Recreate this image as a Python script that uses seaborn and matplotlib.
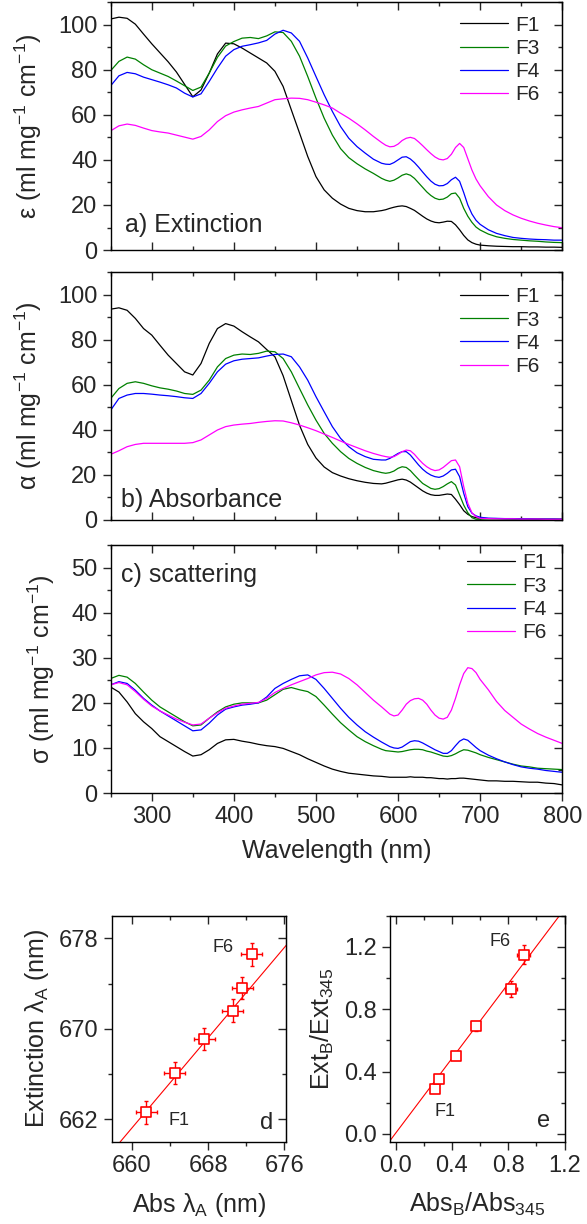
import numpy as np
import pandas as pd
import matplotlib
matplotlib.use("Agg")
import matplotlib.pyplot as plt
from matplotlib.ticker import MultipleLocator, FormatStrFormatter
import seaborn as sns

sns.set_style("ticks")
plt.rcParams["font.family"] = ["Liberation Sans", "DejaVu Sans"]
plt.rcParams["mathtext.fontset"] = "custom"
plt.rcParams["mathtext.rm"] = "Liberation Sans"
plt.rcParams["mathtext.it"] = "Liberation Sans:italic"
plt.rcParams["mathtext.bf"] = "Liberation Sans:bold"

# --------------------------------------------------------------------------
# data (wavelength grid: 10 nm, 5 nm near the Q bands)
# --------------------------------------------------------------------------
wavelength = list(range(250, 581, 10)) + list(range(585, 701, 5)) + list(range(710, 801, 10))
samples = ["F1", "F3", "F4", "F6"]
colors = ["black", "#008000", "#0000ff", "#ff00ff"]

ext_f1 = [102.5, 103.3, 102.8, 100.2, 95.8, 91.5, 87.5, 83.5, 79.0, 73.5, 68.0, 71.0, 78.5, 87.0, 91.8, 91.5, 89.6,
          87.4, 85.2, 83.0, 79.3, 72.6, 62.2, 51.9, 41.5, 32.6, 26.7, 23.0, 20.4, 18.5, 17.5, 17.0, 17.0, 17.5,
          17.9, 18.5, 19.0, 19.4, 19.6, 19.3, 18.5, 17.6, 16.3, 15.0, 13.8, 12.9, 12.3, 12.1, 12.4, 12.8, 12.7, 11.2,
          9.0, 6.5, 4.5, 3.3, 2.6, 2.2,
          1.9, 1.7, 1.6, 1.5, 1.5, 1.4, 1.4, 1.3, 1.3, 1.2]
ext_f3 = [79.6, 83.7, 85.6, 84.7, 82.2, 80.0, 78.5, 77.0, 75.0, 72.9, 70.8, 72.3, 78.5, 85.5, 90.5, 92.5, 94.0,
          94.3, 93.8, 95.0, 96.8, 96.5, 92.6, 86.0, 77.0, 67.4, 58.5, 51.0, 45.0, 41.0, 38.3, 36.0, 34.0, 31.8,
          31.0, 30.5, 31.0, 32.0, 33.2, 33.8, 33.2, 31.8, 29.8, 27.8, 25.8, 24.2, 23.0, 22.4, 22.6, 23.5, 25.0, 25.3,
          23.0, 18.5, 15.0, 12.3, 10.2, 8.9,
          7.1, 5.9, 5.2, 4.7, 4.4, 4.1, 3.9, 3.6, 3.4, 3.3]
ext_f4 = [72.9, 77.3, 78.8, 78.2, 76.7, 75.6, 74.5, 73.3, 71.9, 69.6, 67.9, 69.3, 74.8, 80.7, 86.0, 88.9, 90.4,
          91.1, 91.9, 93.0, 95.8, 97.5, 96.3, 92.6, 85.2, 77.0, 68.9, 61.5, 54.8, 49.6, 45.9, 43.0, 40.3, 38.5,
          38.1, 38.0, 38.8, 40.0, 41.2, 41.4, 40.4, 38.8, 36.8, 34.6, 32.5, 30.6, 29.2, 28.5, 28.6, 29.5, 31.2, 32.3,
          30.5, 25.5, 20.0, 16.0, 13.2, 11.4,
          9.0, 7.4, 6.4, 5.6, 5.2, 4.9, 4.7, 4.6, 4.4, 4.4]
ext_f6 = [52.9, 55.1, 55.9, 55.3, 54.1, 53.0, 52.4, 51.9, 51.0, 50.1, 49.2, 50.4, 53.3, 57.0, 59.6, 61.2, 62.2,
          63.0, 63.7, 65.2, 66.7, 67.1, 67.4, 67.3, 66.7, 65.6, 64.4, 63.0, 60.7, 58.5, 56.0, 53.3, 50.4, 47.7,
          46.5, 45.8, 46.0, 47.0, 48.6, 49.6, 50.0, 49.5, 48.0, 46.3, 44.5, 42.8, 41.3, 40.3, 40.0, 40.6, 42.5, 45.5,
          47.3, 45.5, 40.5, 35.5, 31.5, 28.5,
          23.7, 20.0, 17.5, 15.6, 14.1, 12.9, 11.9, 11.1, 10.4, 9.9]

abs_f1 = [93.5, 94.1, 93.0, 89.4, 84.9, 82.0, 77.5, 73.1, 69.4, 65.7, 64.3, 69.4, 78.3, 84.9, 87.1, 86.0, 83.5,
          81.2, 79.0, 75.6, 72.4, 64.0, 53.0, 42.0, 33.5, 27.5, 23.5, 21.0, 19.5, 18.3, 17.4, 16.7, 16.2, 16.0,
          16.3, 16.8, 17.3, 17.8, 18.1, 17.7, 16.8, 15.5, 14.2, 12.9, 11.9, 11.2, 10.9, 10.9, 11.2, 11.5, 11.3, 9.2,
          6.8, 4.1, 2.5, 1.5, 1.0, 0.7,
          0.6, 0.6, 0.5, 0.5, 0.5, 0.4, 0.4, 0.3, 0.3, 0.3]
abs_f3 = [53.9, 58.3, 60.6, 61.3, 60.6, 59.5, 58.6, 58.0, 57.2, 56.1, 55.7, 57.6, 62.0, 67.9, 71.6, 73.1, 73.6,
          73.4, 73.9, 74.9, 74.6, 71.6, 65.7, 58.3, 51.0, 44.3, 38.4, 34.0, 30.3, 27.3, 25.1, 23.3, 21.9, 21.0,
          20.7, 21.0, 21.7, 22.9, 23.6, 23.3, 21.9, 19.9, 18.0, 16.2, 15.1, 14.0, 13.6, 13.9, 14.8, 16.0, 17.0, 15.5,
          11.1, 6.6, 3.2, 1.0, 0.3, 0.3,
          0.5, 0.5, 0.5, 0.4, 0.4, 0.4, 0.3, 0.3, 0.3, 0.3]
abs_f4 = [48.7, 53.9, 55.4, 56.1, 56.1, 55.8, 55.4, 55.1, 54.7, 54.2, 53.9, 56.1, 60.6, 65.7, 69.1, 70.6, 71.3,
          71.6, 71.9, 72.7, 73.4, 73.6, 72.4, 67.9, 62.0, 54.7, 48.0, 41.4, 36.2, 32.5, 29.8, 28.1, 26.9, 26.6,
          26.6, 27.3, 28.4, 29.5, 30.3, 30.3, 28.8, 26.6, 24.4, 22.5, 21.0, 19.9, 19.2, 18.9, 19.5, 20.7, 22.2, 22.5,
          19.2, 11.8, 5.9, 3.0, 1.8, 1.2,
          0.8, 0.7, 0.6, 0.6, 0.5, 0.5, 0.4, 0.4, 0.4, 0.3]
abs_f6 = [29.1, 30.7, 32.5, 33.5, 34.0, 34.0, 34.0, 34.0, 34.0, 34.0, 34.3, 35.5, 37.7, 39.9, 41.4, 42.1, 42.5,
          42.8, 43.3, 43.7, 44.0, 43.9, 43.1, 42.1, 40.9, 39.6, 38.1, 36.6, 35.0, 33.5, 32.1, 30.7, 29.5, 28.5,
          28.1, 27.8, 28.1, 29.1, 30.3, 31.0, 30.7, 29.1, 27.0, 25.1, 23.6, 22.5, 21.9, 22.2, 23.3, 24.8, 26.3, 26.6,
          23.6, 14.8, 7.4, 3.2, 1.5, 0.7,
          0.6, 0.5, 0.5, 0.5, 0.4, 0.4, 0.4, 0.3, 0.3, 0.3]

sca_f1 = [23.5, 22.4, 20.2, 17.6, 15.8, 14.3, 12.5, 11.4, 10.3, 9.2, 8.2, 8.5, 9.6, 11.0, 11.8, 11.9, 11.5,
          11.2, 10.8, 10.5, 10.3, 9.9, 9.2, 8.5, 7.6, 6.8, 6.0, 5.3, 4.8, 4.4, 4.2, 4.0, 3.8, 3.7,
          3.6, 3.5, 3.5, 3.5, 3.5, 3.5, 3.6, 3.5, 3.5, 3.5, 3.4, 3.4, 3.3, 3.2, 3.2, 3.1, 3.2, 3.2,
          3.3, 3.3, 3.2, 3.1, 3.0, 2.9,
          2.7, 2.7, 2.6, 2.6, 2.5, 2.4, 2.4, 2.2, 2.1, 1.8]
sca_f3 = [25.4, 26.1, 25.7, 24.3, 22.4, 20.6, 19.1, 18.0, 16.9, 15.8, 14.9, 15.1, 16.6, 18.0, 19.1, 19.7, 20.0,
          20.0, 20.0, 20.6, 21.8, 23.0, 23.4, 22.9, 22.5, 21.4, 19.5, 17.5, 15.6, 14.0, 12.5, 11.4, 10.5, 9.7,
          9.4, 9.3, 9.2, 9.1, 9.2, 9.4, 9.6, 9.7, 9.7, 9.6, 9.3, 9.1, 8.8, 8.5, 8.2, 8.1, 8.3, 8.7,
          9.2, 9.6, 9.5, 9.2, 8.9, 8.5,
          7.9, 7.4, 6.9, 6.4, 6.0, 5.8, 5.5, 5.4, 5.3, 5.2]
sca_f4 = [24.0, 24.7, 24.3, 22.8, 21.0, 19.5, 18.2, 17.1, 16.0, 14.9, 13.8, 14.0, 15.5, 17.3, 18.6, 19.1, 19.5,
          19.7, 20.0, 21.3, 23.2, 24.3, 25.2, 26.0, 26.2, 25.2, 23.2, 21.0, 18.8, 16.8, 15.1, 13.6, 12.4, 11.3,
          10.8, 10.3, 10.0, 9.9, 10.2, 10.8, 11.4, 11.6, 11.5, 11.1, 10.6, 10.1, 9.6, 9.2, 8.8, 8.8, 9.4, 10.5,
          11.5, 12.0, 11.7, 10.9, 10.1, 9.4,
          8.4, 7.6, 6.9, 6.3, 5.8, 5.5, 5.3, 5.0, 4.8, 4.6]
sca_f6 = [24.0, 24.5, 24.0, 22.5, 20.8, 19.3, 18.2, 17.3, 16.4, 15.7, 15.1, 15.3, 16.6, 17.8, 18.8, 19.3, 19.7,
          19.9, 20.1, 21.0, 22.3, 23.2, 24.0, 24.7, 25.4, 26.2, 26.7, 26.8, 26.4, 25.4, 24.0, 22.3, 20.6, 19.1,
          18.3, 17.5, 17.1, 17.3, 18.4, 19.7, 20.5, 20.9, 21.0, 20.6, 19.7, 18.4, 17.3, 16.6, 16.4, 16.8, 18.4, 21.0,
          24.0, 26.5, 27.8, 27.6, 26.7, 25.2,
          22.9, 20.3, 18.3, 16.8, 15.3, 14.2, 13.2, 12.4, 11.7, 11.0]

# peak positions (panel d) and band ratios (panel e), F1 ... F6
abs_peak = [661.5, 664.5, 667.6, 670.6, 671.6, 672.6]
ext_peak = [662.6, 666.1, 669.1, 671.6, 673.6, 676.6]
abs_peak_err = [1.1, 1.1, 1.1, 1.1, 1.1, 1.1]
ext_peak_err = [1.0, 1.0, 1.0, 1.0, 1.0, 1.0]
fit_d = (1.0, 1.2)  # slope, intercept

abs_ratio = [0.28, 0.31, 0.43, 0.57, 0.82, 0.91]
ext_ratio = [0.29, 0.35, 0.50, 0.69, 0.93, 1.15]
abs_ratio_err = [0.02, 0.02, 0.02, 0.02, 0.04, 0.045]
ext_ratio_err = [0.02, 0.02, 0.02, 0.03, 0.05, 0.06]
fit_e = (1.2, 0.005)


def long_frame(series):
    rows = []
    for name, vals in zip(samples, series):
        rows.append(pd.DataFrame({"wavelength": wavelength, "value": vals, "sample": name}))
    return pd.concat(rows, ignore_index=True)


def set_locators(axis, maj, mnr):
    # each entry: (step, offset)
    axis.set_major_locator(MultipleLocator(*maj))
    axis.set_minor_locator(MultipleLocator(*mnr))


def mirror_ticks(ax, xloc, yloc):
    top = ax.secondary_xaxis("top")
    set_locators(top.xaxis, *xloc)
    top.tick_params(which="both", direction="in", labeltop=False, width=1)
    top.tick_params(which="major", length=6)
    top.tick_params(which="minor", length=3.2)
    right = ax.secondary_yaxis("right")
    set_locators(right.yaxis, *yloc)
    right.tick_params(which="both", direction="in", labelright=False, width=1)
    right.tick_params(which="major", length=6)
    right.tick_params(which="minor", length=3.2)


def style_axes(ax, xloc, yloc, bottom_dir="out", labelsize=17):
    set_locators(ax.xaxis, *xloc)
    set_locators(ax.yaxis, *yloc)
    ax.tick_params(axis="y", which="both", direction="out", width=1, labelsize=labelsize)
    ax.tick_params(axis="x", which="both", direction=bottom_dir, width=1, labelsize=labelsize)
    ax.tick_params(which="major", length=6)
    ax.tick_params(which="minor", length=3.2)
    for sp in ax.spines.values():
        sp.set_linewidth(1.0)
        sp.set_color("black")
    mirror_ticks(ax, xloc, yloc)


fig = plt.figure(figsize=(5.87, 12.24), dpi=100)

spectra = [
    ([ext_f1, ext_f3, ext_f4, ext_f6], 110, 20, 10, r"ε (ml mg$^{-1}$ cm$^{-1}$)", "a) Extinction",
     (0.032, 0.074), 0.7957, (0.774, 0.945)),
    ([abs_f1, abs_f3, abs_f4, abs_f6], 110, 20, 10, r"α (ml mg$^{-1}$ cm$^{-1}$)", "b) Absorbance",
     (0.022, 0.054), 0.5752, (0.774, 0.938)),
    ([sca_f1, sca_f3, sca_f4, sca_f6], 55, 10, 5, r"σ (ml mg$^{-1}$ cm$^{-1}$)", "c) scattering",
     (0.022, 0.849), 0.3521, (0.789, 0.966)),
]

for i, (series, ytop, ymaj, ymin, ylab, tag, tagpos, bottom, legpos) in enumerate(spectra):
    ax = fig.add_axes([0.1886, bottom, 0.7692, 0.2026])
    df = long_frame(series)
    sns.lineplot(data=df, x="wavelength", y="value", hue="sample", palette=colors,
                 linewidth=0.9, ax=ax, estimator=None)
    ax.set_xlim(250, 800)
    ax.set_ylim(0, ytop)
    last = i == 2
    style_axes(ax, ((100,), (50,)), ((ymaj,), (ymin,)), bottom_dir="out" if last else "in")
    if not last:
        ax.tick_params(axis="x", labelbottom=False)
        ax.set_xlabel("")
    else:
        ax.set_xlabel("Wavelength (nm)", fontsize=18, labelpad=8)
    ax.set_ylabel(ylab, fontsize=18, labelpad=10)
    ax.text(tagpos[0], tagpos[1], tag, transform=ax.transAxes, fontsize=18, va="baseline", ha="left")
    handles, labels = ax.get_legend_handles_labels()
    ax.legend(handles, labels, loc="upper left", bbox_to_anchor=legpos, frameon=False, fontsize=15,
              handlelength=2.3, handletextpad=0.35, labelspacing=0.2, borderpad=0, borderaxespad=0)

# --------------------------------------------------------------------------
# d) and e) correlation panels
# --------------------------------------------------------------------------
red = "#ff0000"
scatter_panels = [
    (0.1903, abs_peak, ext_peak, abs_peak_err, ext_peak_err, fit_d, (657.9, 676.2), (660, 680),
     ((8, 4), (4, 0)), ((8, 6), (4, 2)),
     r"Abs λ$_\mathrm{A}$ (nm)", r"Extinction λ$_\mathrm{A}$ (nm)", "d",
     [(669.6, 677.2), (664.9, 661.9), (674.1, 661.7)], "%d"),
    (0.6644, abs_ratio, ext_ratio, abs_ratio_err, ext_ratio_err, fit_e, (-0.04, 1.2), (-0.05, 1.40),
     ((0.4,), (0.2,)), ((0.4,), (0.2,)),
     r"Abs$_\mathrm{B}$/Abs$_\mathrm{345}$", r"Ext$_\mathrm{B}$/Ext$_\mathrm{345}$", "e",
     [(0.742, 1.232), (0.349, 0.141), (1.05, 0.085)], "%.1f"),
]

for (left, xs, ys, xe, ye, fit, xlim, ylim, xloc, yloc, xlab, ylab, tag, textpos, fmt) in scatter_panels:
    ax = fig.add_axes([left, 0.0672, 0.2975, 0.1846])
    ax.set_xlim(*xlim)
    ax.set_ylim(*ylim)
    xfit = np.array(xlim)
    ax.plot(xfit, fit[0] * xfit + fit[1], color=red, lw=0.8)
    ax.errorbar(xs, ys, xerr=xe, yerr=ye, fmt="none", ecolor=red, elinewidth=1.0, capsize=1.5, capthick=1.0)
    sns.scatterplot(x=xs, y=ys, marker="s", s=60, facecolor="white", edgecolor=red, linewidth=1.2,
                    ax=ax, zorder=3)
    style_axes(ax, xloc, yloc, bottom_dir="out")
    ax.set_xlim(*xlim)
    ax.set_ylim(*ylim)
    ax.xaxis.set_major_formatter(FormatStrFormatter(fmt))
    ax.yaxis.set_major_formatter(FormatStrFormatter(fmt))
    ax.set_xlabel(xlab, fontsize=18, labelpad=10)
    ax.set_ylabel(ylab, fontsize=18, labelpad=6)
    ax.text(*textpos[0], "F6", fontsize=13, ha="center", va="center")
    ax.text(*textpos[1], "F1", fontsize=13, ha="center", va="center")
    ax.text(*textpos[2], tag, fontsize=17, ha="center", va="center")

fig.savefig("out.png", dpi=100)
